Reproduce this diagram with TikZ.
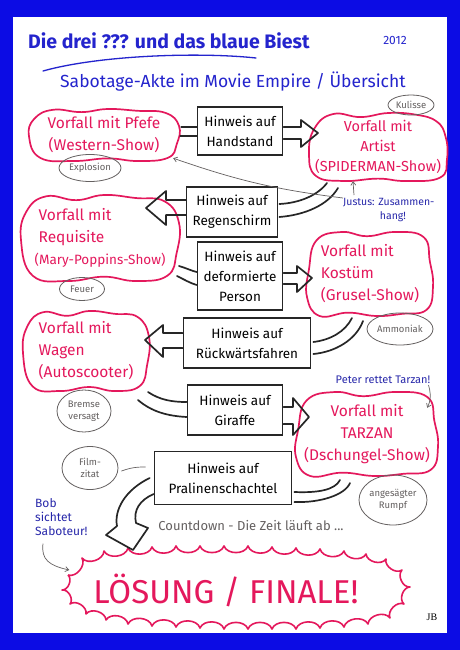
\documentclass[tikz,border=0pt]{standalone}
\usepackage{fontspec}
\setmainfont{Fira Sans}
\newfontfamily\serifjb{Liberation Serif}
\usetikzlibrary{shapes.geometric,arrows.meta,calc}
\definecolor{bgblue}{RGB}{12,12,228}
\definecolor{fred}{RGB}{228,24,92}
\definecolor{titleblue}{RGB}{36,36,205}
\definecolor{penblue}{RGB}{40,40,170}
\definecolor{notegray}{RGB}{100,96,96}
\tikzset{
  cloudbox/.style={rectangle, text=fred, align=center, inner sep=0pt, font=\fontsize{15.5}{22}\selectfont},
  blobline/.style={draw=fred, line width=1.7pt},
  hintbox/.style={rectangle, draw=black!85, line width=1.7pt, align=center, inner sep=0pt,
    font=\fontsize{13.5}{20}\selectfont},
  noteell/.style={ellipse, draw=notegray, line width=0.8pt, text=notegray, align=center,
    inner sep=0pt, font=\fontsize{9.5}{12}\selectfont},
  pennote/.style={text=penblue, align=left, inner sep=0pt, font=\fontsize{10.5}{14}\selectfont},
  blockline/.style={draw=black!85, line width=1.7pt, line cap=round, line join=round},
  notearrow/.style={draw=notegray, line width=0.7pt, -{Straight Barb[length=3.5pt,width=5pt]}},
  noteline/.style={draw=notegray, line width=0.7pt},
  burst/.style={draw=fred, line width=1.6pt, line join=round}
}
\newcommand\blobA{(-1.00,0.05) (-0.93,-0.62) (-0.68,-0.97) (-0.30,-0.88) (0.05,-1.0) (0.45,-0.93) (0.82,-0.85) (1.0,-0.35) (0.97,0.35) (0.85,0.88) (0.45,1.0) (0.05,0.9) (-0.40,1.0) (-0.85,0.88)}
\newcommand\blobB{(-0.97,-0.1) (-0.85,-0.8) (-0.45,-1.0) (-0.05,-0.9) (0.4,-1.0) (0.85,-0.88) (0.95,-0.3) (1.0,0.3) (0.9,0.85) (0.5,0.95) (0.1,1.0) (-0.35,0.92) (-0.8,1.0) (-1.0,0.55)}
\newcommand\blobC{(-1.0,0.2) (-0.92,-0.55) (-0.65,-0.97) (-0.25,-0.88) (0.15,-1.0) (0.55,-0.95) (0.85,-0.75) (0.98,-0.3) (1.0,0.35) (0.9,0.9) (0.4,1.0) (0.0,0.93) (-0.5,1.0) (-0.9,0.85)}
\newcommand\drawblob[4]{%
  \begin{scope}[shift={(#1.center)}, x=#2pt, y=-#3pt]
    \draw[blobline] plot[smooth cycle, tension=0.75] coordinates {#4};
  \end{scope}}
\begin{document}
\begin{tikzpicture}[x=1pt,y=-1pt]
\useasboundingbox (0,0) rectangle (460,650);
\fill[bgblue] (0,0) rectangle (460,650);
\fill[white] (13,17) rectangle (447,633);

% title
\node[anchor=west, text=titleblue, inner sep=0pt, font=\fontsize{19.5}{24}\selectfont\bfseries] (title) at (28,41) {Die drei ??? und das blaue Biest};
\node[text=titleblue, inner sep=0pt, font=\fontsize{12}{14}\selectfont] (year) at (395,40) {2012};
\draw[titleblue, line width=1.3pt, line cap=round] (43,71) .. controls (100,55) and (200,52) .. (256,58);
\node[anchor=west, text=titleblue, inner sep=0pt, font=\fontsize{17.5}{20}\selectfont] (sub) at (60,82) {Sabotage-Akte im Movie Empire / Übersicht};

% clouds
\node[cloudbox, minimum width=148pt, minimum height=50pt] (c1) at (104,135) {Vorfall mit Pfefe\\(Western-Show)};
\drawblob{c1}{75}{26}{\blobA}
\node[cloudbox, minimum width=136pt, minimum height=68pt, font=\fontsize{14.5}{20}\selectfont] (c2) at (378,147) {Vorfall mit\\Artist\\(SPIDERMAN-Show)};
\drawblob{c2}{69}{34}{\blobC}
\node[cloudbox, minimum width=156pt, minimum height=84pt, align=left] (c3) at (100,238) {\hspace*{4pt}Vorfall mit\\\hspace*{4pt}Requisite\\{\fontsize{13.5}{22}\selectfont(Mary-Poppins-Show)}};
\drawblob{c3}{79}{43}{\blobA}
\node[cloudbox, minimum width=124pt, minimum height=84pt, align=left] (c4) at (370,274) {Vorfall mit\\Kostüm\\(Grusel-Show)};
\drawblob{c4}{63}{42}{\blobB}
\node[cloudbox, minimum width=124pt, minimum height=78pt, align=left] (c5) at (86,351) {Vorfall mit\\Wagen\\(Autoscooter)};
\drawblob{c5}{63}{40}{\blobA}
\node[cloudbox, minimum width=140pt, minimum height=84pt] (c6) at (367,434) {Vorfall mit\\TARZAN\\(Dschungel-Show)};
\drawblob{c6}{71}{42}{\blobB}

% hint boxes
\node[hintbox, minimum width=85pt, minimum height=48pt] (b1) at (240,131) {Hinweis auf\\Handstand};
\node[hintbox, minimum width=91pt, minimum height=50pt] (b2) at (232,212) {Hinweis auf\\Regenschirm};
\node[hintbox, minimum width=85pt, minimum height=68pt] (b3) at (240,276) {Hinweis auf\\deformierte\\Person};
\node[hintbox, minimum width=127pt, minimum height=50pt] (b4) at (247,343) {Hinweis auf\\Rückwärtsfahren};
\node[hintbox, minimum width=95pt, minimum height=50pt] (b5) at (235,410) {Hinweis auf\\Giraffe};
\node[hintbox, minimum width=137pt, minimum height=53pt] (b6) at (223,478) {Hinweis auf\\Pralinenschachtel};

% gray notes
\node[noteell, minimum width=46pt, minimum height=20pt] (e1) at (411,105) {Kulisse};
\node[noteell, minimum width=62pt, minimum height=27pt] (e2) at (90,168) {Explosion};
\node[noteell, minimum width=45pt, minimum height=23pt] (e3) at (82,289) {Feuer};
\node[noteell, minimum width=66pt, minimum height=32pt] (e4) at (400,329) {Ammoniak};
\node[noteell, minimum width=54pt, minimum height=42pt] (e5) at (84,411) {Bremse\\versagt};
\node[noteell, minimum width=56pt, minimum height=43pt] (e6) at (90,468) {Film-\\zitat};
\node[noteell, minimum width=68pt, minimum height=50pt] (e7) at (393,500) {angesägter\\Rumpf};

% pen notes
\node[pennote, anchor=north west] (justus) at (343,198) {Justus: Zusammen-\\\hspace*{3.5em}hang!};
\node[pennote, font=\fontsize{11}{12}\selectfont] (peter) at (383,380) {Peter rettet Tarzan!};
\node[pennote, anchor=north west, font=\fontsize{12}{14}\selectfont] (bob) at (35,498) {Bob\\sichtet\\Saboteur!};
\node[text=notegray, inner sep=0pt, font=\fontsize{13}{15}\selectfont] (count) at (251,526) {Countdown - Die Zeit läuft ab ...};

% final
\node[text=fred, inner sep=0pt, font=\fontsize{33}{36}\selectfont] (fin) at (226,590) {LÖSUNG / FINALE!};
\draw[burst] (68,575) \foreach \x/\y in {82/558,104/551,128/548,152/547,176/546,200/546,224/546,248/546,272/547,296/548,320/549,344/551,366/554,386/559,402/570,410/587,404/604,390/618,368/624,344/627,320/628,296/629,272/629,248/629,224/629,200/628,176/627,152/626,128/624,106/620,86/614,70/604,62/590,68/575} { to[bend right=70] (\x,\y) };
\node[inner sep=0pt, font=\fontsize{10}{10}\serifjb] (jb) at (432,617) {JB};

% block connectors
\draw[blockline] ($(c1.east)+(3,-8)$) -- ($(b1.west)+(0,-4)$);
\draw[blockline] ($(c1.east)+(2,1)$) -- ($(b1.west)+(0,5)$);
\draw[blockline] ($(b1.east)+(0,-4)$) -- (301,127) -- (301,120) -- (318,133) -- (301,147) -- (301,139) -- ($(b1.east)+(0,8)$);

\draw[blockline] ($(c2)+(-51,36)$) .. controls (318,195) and (300,203) .. ($(b2.east)+(1,-8)$);
\draw[blockline] ($(c2)+(-40,41)$) .. controls (328,205) and (305,215) .. ($(b2.east)+(1,5)$);
\draw[blockline] ($(b2.west)+(0,-12)$) -- (166,200) -- (166,191) -- (146,208) -- (166,225) -- (166,215) -- ($(b2.west)+(0,3)$);

\draw[blockline] ($(c3)+(79,28)$) .. controls (186,268) and (192,271) .. ($(b3.west)+(0,-4)$);
\draw[blockline] ($(c3)+(77,38)$) .. controls (185,280) and (190,283) .. ($(b3.west)+(0,9)$);
\draw[blockline] ($(b3.east)+(0,-3)$) -- (297,273) -- (297,266) -- (312,278) -- (297,292) -- (297,284) -- ($(b3.east)+(0,8)$);

\draw[blockline] ($(c4)+(-18,44)$) .. controls (345,332) and (330,340) .. ($(b4.east)+(2,-1)$);
\draw[blockline] ($(c4)+(-7,47)$) .. controls (356,340) and (335,352) .. ($(b4.east)+(2,11)$);
\draw[blockline] ($(b4.west)+(0,-10)$) -- (163,333) -- (163,325) -- (145,340) -- (163,357) -- (163,348) -- ($(b4.west)+(0,5)$);

\draw[blockline] ($(c5)+(62,41)$) .. controls (160,400) and (172,402) .. ($(b5.west)+(0,-8)$);
\draw[blockline] ($(c5)+(52,49)$) .. controls (152,412) and (168,416) .. ($(b5.west)+(0,7)$);
\draw[blockline] ($(b5.east)+(0,-3)$) -- (293,407) -- (293,398) -- (309,417) -- (293,435) -- (293,424) -- ($(b5.east)+(0,14)$);

\draw[blockline] ($(c6)+(-27,46)$) .. controls (335,490) and (318,493) .. ($(b6.east)+(2,14)$);
\draw[blockline] ($(c6)+(-17,49)$) .. controls (345,495) and (320,503) .. ($(b6.east)+(2,24)$);
\draw[blockline] ($(b6.west)+(-4,0)$) .. controls (125,490) and (114,510) .. (117,526) -- (106,535) -- (133,550) -- (148,528) -- (136,523) .. controls (133,510) and (140,500) .. ($(b6.west)+(0,16)$);

% thin gray connectors
\draw[notearrow] (justus.north west) to[bend left=6] ($(c1.south east)+(-5,-2)$);
\draw[notearrow] ($(justus.north west)+(11,-3)$) -- ($(c2.south)+(-25,0)$);
\draw[notearrow] ($(peter.east)+(-2,5)$) .. controls ($(peter.east)+(2,18)$) and ($(peter.east)+(-2,25)$) .. ($(c6.north east)+(-10,16)$);
\draw[notearrow] ($(bob.south west)+(8,8)$) .. controls ($(bob.south west)+(6,24)$) and ($(bob.south west)+(14,30)$) .. ($(fin.west)+(-24,-20)$);
\draw[noteline] ($(e6.east)+(3,3)$) to[bend left=10] ($(b6.west)+(-8,-11)$);
\end{tikzpicture}
\end{document}
